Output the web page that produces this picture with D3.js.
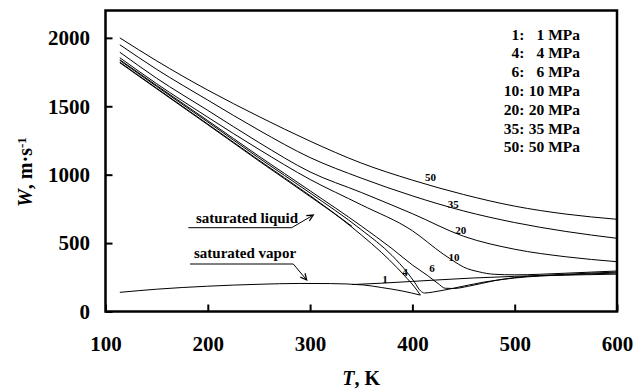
<!DOCTYPE html>
<html>
<head>
<meta charset="utf-8">
<script src="https://cdn.jsdelivr.net/npm/d3@7"></script>
<style>
  html, body { margin: 0; padding: 0; background: #fff; }
  svg { display: block; }
  text { font-family: "Liberation Serif", "Times New Roman", serif; font-weight: bold; fill: #000; }
</style>
</head>
<body>
<svg id="chart" width="635" height="391"></svg>
<script>
// Speed of sound W (m/s) of the fluid against temperature T (K), isobars and saturation curves.

const xTicks = [100, 200, 300, 400, 500, 600];
const yTicks = [0, 500, 1000, 1500, 2000];

// legend: curve number and pressure
const legendKeys = ["1", "4", "6", "10", "20", "35", "50"];
const legendPressures = ["1 MPa", "4 MPa", "6 MPa", "10 MPa", "20 MPa", "35 MPa", "50 MPa"];

// saturation boundary, [T, W]
const satLiquid = [[114,1818],[150,1628],[200,1365],[250,1100],[300,840],[330,680],[350,560],[370,430],[385,320],[395,240],[402,180],[407.8,120]];
const satVapor = [[114,140],[150,163],[200,185],[250,199],[290,205],[320,204],[352,194],[370,175],[390,150],[407.8,120]];

// 1 MPa isobar: liquid and vapour branches
const p1Liquid = [[114,1822],[150,1632],[200,1370],[250,1106],[300,847],[341,622]];
const p1Vapor = [[341,197],[370,207],[400,220],[430,233],[460,245],[500,257],[550,266],[600,273]];

// supercritical isobars
const p4 = [[114,1835],[150,1645],[200,1385],[250,1122],[300,866],[350,598],[380,410],[395,285],[402,215],[408,150],[412,135],[420,142],[440,170],[470,215],[500,245],[550,268],[600,281]];
const p6 = [[114,1840],[150,1652],[200,1395],[250,1135],[300,882],[350,625],[380,460],[400,340],[415,262],[425,205],[432,170],[440,168],[455,185],[480,225],[500,248],[550,272],[600,288]];
const p10 = [[114,1855],[150,1665],[200,1420],[250,1185],[300,965],[350,780],[400,590],[430,420],[440,370],[450,325],[465,290],[480,272],[500,268],[550,280],[600,296]];
const p20 = [[114,1895],[150,1705],[200,1470],[250,1235],[300,1020],[350,870],[400,715],[450,550],[500,455],[550,400],[600,364]];
const p35 = [[114,1950],[150,1770],[200,1545],[250,1325],[300,1125],[350,975],[400,845],[450,735],[500,650],[550,585],[600,535]];
const p50 = [[114,2000],[150,1832],[200,1618],[250,1425],[300,1245],[350,1085],[400,960],[450,855],[500,770],[550,712],[600,674]];

// curve number labels, [text, T, W]
const curveLabels = [["50",417.6,983],["35",440,786],["20",447.2,596],["10",440.7,400],["6",419.2,318],["4",392.8,291],["1",373.2,238]];

const svg = d3.select("#chart");
const x = d3.scaleLinear().domain([100, 600]).range([105.5, 617]);
const y = d3.scaleLinear().domain([0, 2200]).range([311.5, 10.5]);

const line = d3.line().x(d => x(d[0])).y(d => y(d[1])).curve(d3.curveMonotoneX);

const curves = [satLiquid, satVapor, p1Liquid, p1Vapor, p4, p6, p10, p20, p35, p50];
svg.append("g")
  .selectAll("path")
  .data(curves)
  .join("path")
  .attr("d", line)
  .attr("fill", "none")
  .attr("stroke", "#000")
  .attr("stroke-width", 1);

// axes with inward ticks
const xAxis = d3.axisBottom(x).tickValues(xTicks).tickSizeInner(-7).tickSizeOuter(0).tickPadding(24.3).tickFormat(d3.format("d"));
const gx = svg.append("g").attr("transform", `translate(0,${y(0)})`).call(xAxis);
gx.select(".domain").remove();
gx.selectAll(".tick line").attr("stroke", "#000").attr("stroke-width", 2);
gx.selectAll(".tick text").style("font-size", "21px").attr("fill", "#000");

const yAxis = d3.axisLeft(y).tickValues(yTicks).tickSizeInner(-7).tickSizeOuter(0).tickPadding(15.5).tickFormat(d3.format("d"));
const gy = svg.append("g").attr("transform", `translate(${x(100)},0)`).call(yAxis);
gy.select(".domain").remove();
gy.selectAll(".tick line").attr("stroke", "#000").attr("stroke-width", 2);
gy.selectAll(".tick text").style("font-size", "21px").attr("fill", "#000");

// plot frame
svg.append("rect")
  .attr("x", x(100)).attr("y", y(2200))
  .attr("width", x(600) - x(100)).attr("height", y(0) - y(2200))
  .attr("fill", "none").attr("stroke", "#000").attr("stroke-width", 2.5);

// axis titles
const xt = svg.append("text").attr("x", (x(100) + x(600)) / 2).attr("y", 385)
  .attr("text-anchor", "middle").style("font-size", "20px");
xt.append("tspan").style("font-style", "italic").text("T");
xt.append("tspan").text(", K");

const yt = svg.append("text").attr("transform", "translate(32,207) rotate(-90)")
  .attr("text-anchor", "start").style("font-size", "20px");
yt.append("tspan").style("font-style", "italic").text("W");
yt.append("tspan").text(", m·s");
yt.append("tspan").attr("dy", "-0.45em").style("font-size", "13px").text("-1");

// legend
const leg = svg.append("g").style("font-size", "15.5px");
legendKeys.forEach((k, i) => {
  const by = 39.5 + i * 18.8;
  leg.append("text").attr("x", 524.5).attr("y", by).attr("text-anchor", "end").text(k + ":");
  leg.append("text").attr("x", 580).attr("y", by).attr("text-anchor", "end").text(legendPressures[i]);
});

// curve numbers
svg.append("g").style("font-size", "11px")
  .selectAll("text")
  .data(curveLabels)
  .join("text")
  .attr("x", d => x(d[1]))
  .attr("y", d => y(d[2]))
  .attr("dy", "0.35em")
  .attr("text-anchor", "middle")
  .text(d => d[0]);

// saturation annotations with underline and arrow
function note(label, tx, ty, ux0, ux1, uy, tipT, tipW) {
  const g = svg.append("g");
  g.append("text").attr("x", tx).attr("y", ty).style("font-size", "15px").text(label);
  const px = x(tipT), py = y(tipW);
  g.append("path")
    .attr("d", `M${ux0},${uy}H${ux1}L${px},${py}`)
    .attr("fill", "none").attr("stroke", "#000").attr("stroke-width", 1);
  const ang = Math.atan2(py - uy, px - ux1);
  const len = 7, spread = 0.45;
  const a1 = [px - len * Math.cos(ang - spread), py - len * Math.sin(ang - spread)];
  const a2 = [px - len * Math.cos(ang + spread), py - len * Math.sin(ang + spread)];
  g.append("path")
    .attr("d", `M${a1[0]},${a1[1]}L${px},${py}L${a2[0]},${a2[1]}`)
    .attr("fill", "none").attr("stroke", "#000").attr("stroke-width", 1.2);
}
note("saturated liquid", 196, 223, 188.3, 291.7, 227.7, 303.1, 705);
note("saturated vapor", 194, 258.3, 190, 293.3, 264, 296.7, 230);
</script>
</body>
</html>
